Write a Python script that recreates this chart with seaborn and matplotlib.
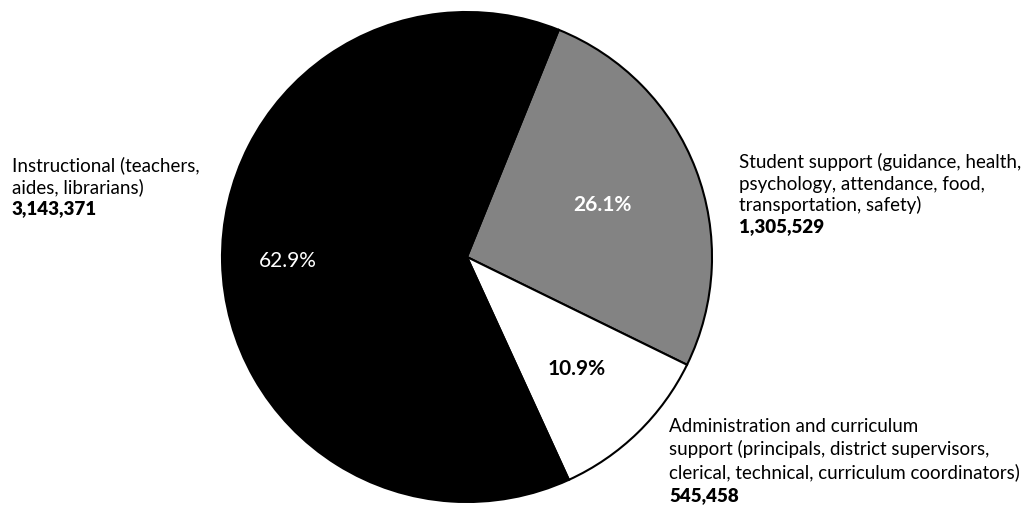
import matplotlib
matplotlib.use("Agg")
import matplotlib.pyplot as plt
import seaborn as sns
import numpy as np

# ---- data ----
categories = ["Student support", "Administration and curriculum support", "Instructional"]
staff_counts = [1305529, 545458, 3143371]
pct_labels = ["26.1%", "10.9%", "62.9%"]
count_labels = ["1,305,529", "545,458", "3,143,371"]
desc_student = ["Student support (guidance, health,", "psychology, attendance, food,", "transportation, safety)"]
desc_admin = ["Administration and curriculum", "support (principals, district supervisors,",
              "clerical, technical, curriculum coordinators)"]
desc_instr = ["Instructional (teachers,", "aides, librarians)"]

sns.set_theme(style="white")
plt.rcParams['font.family'] = ['Lato', 'DejaVu Sans']

W, H = 1035, 511
fig = plt.figure(figsize=(W / 100, H / 100), dpi=100)
ax = fig.add_axes([0, 0, 1, 1])

colors = ["#838383", "#ffffff", "#000000"]
cx, cy, r = 467, H - 257, 245
wedges, _ = ax.pie(
    staff_counts, colors=colors, startangle=68, counterclock=False,
    center=(cx, cy), radius=r,
    wedgeprops=dict(edgecolor="black", linewidth=1.5), frame=True)
ax.set_xlim(0, W)
ax.set_ylim(0, H)
ax.set_aspect('equal')
ax.axis('off')

# percentage labels placed along each wedge's bisector
pct_dist = [0.59, 0.64, 0.73]
pct_style = [dict(color="white", fontweight="bold"),
             dict(color="black", fontweight="bold"),
             dict(color="white", fontweight="normal")]
for w, lab, d, st in zip(wedges, pct_labels, pct_dist, pct_style):
    ang = np.deg2rad((w.theta1 + w.theta2) / 2)
    ax.text(cx + d * r * np.cos(ang), cy + d * r * np.sin(ang), lab,
            ha="center", va="center", fontsize=15, **st)

FS = 13.5

def block(x, ys, lines, number):
    for y, t in zip(ys, lines):
        ax.text(x, H - y, t, ha="left", va="center", fontsize=FS, color="black")
    ax.text(x, H - ys[len(lines)], number, ha="left", va="center", fontsize=FS,
            fontweight="heavy", color="black")

block(12, [165, 187, 209], desc_instr, count_labels[2])
block(739, [162, 184, 205, 227], desc_student, count_labels[0])
block(669, [426, 449, 472, 496], desc_admin, count_labels[1])

fig.savefig("out.png", dpi=100)
